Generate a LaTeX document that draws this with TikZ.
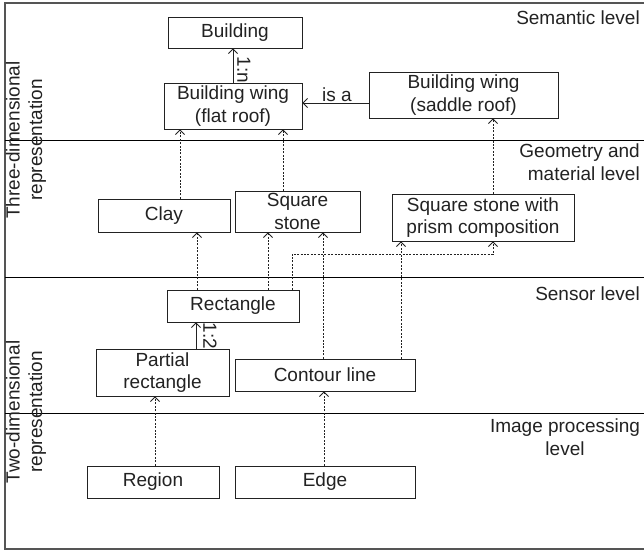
\documentclass[tikz,border=0pt]{standalone}
\usepackage{fontspec}
\setmainfont{Liberation Sans}
\usetikzlibrary{arrows.meta}
\definecolor{ink}{HTML}{222222}
\definecolor{rule}{HTML}{555555}
\tikzset{
  txt/.style={text=ink, font=\fontsize{19}{22.5}\selectfont, inner sep=0pt, align=center},
  box/.style={txt, draw=ink, line width=0.9pt},
  levellabel/.style={txt},
  barb/.style={-{Straight Barb[length=4.5pt,width=9pt,line width=0.8pt]}},
  solidlink/.style={barb, draw=ink, line width=0.9pt},
  dotlink/.style={barb, draw=ink, line width=0.9pt, dash pattern=on 2pt off 1.4pt},
}
\begin{document}
\begin{tikzpicture}[x=1pt,y=-1pt]
\useasboundingbox (0,0) rectangle (644,552);
\fill[white] (0,0) rectangle (644,552);

% frame and level separators
\draw[rule, line width=1.2pt] (644,3) -- (5,3) -- (5,549) -- (644,549);
\draw[black, line width=1pt] (5,140) -- (644,140);
\draw[black, line width=1pt] (5,277) -- (644,277);
\draw[black, line width=1pt] (5,413) -- (644,413);

% level names
\node[levellabel, anchor=east] (semantic) at (640,18) {Semantic level};
\node[levellabel, anchor=east, align=right] (geometry) at (640,162) {Geometry and\\material level};
\node[levellabel, anchor=east] (sensor) at (640,294) {Sensor level};
\node[levellabel] (imgproc) at (565,437) {Image processing\\level};
\node[levellabel, rotate=90] (threedim) at (26,140) {Three-dimensional\\representation};
\node[levellabel, rotate=90] (twodim) at (26,412) {Two-dimensional\\representation};

% concept boxes
\node[box, minimum width=134pt, minimum height=31pt] (building) at (235,32.5) {Building};
\node[box, minimum width=138pt, minimum height=46pt] (flat) at (233,106) {Building wing\\(flat roof)};
\node[box, minimum width=189pt, minimum height=46pt] (saddle) at (463.5,95) {Building wing\\(saddle roof)};
\node[box, minimum width=132pt, minimum height=33pt] (clay) at (164,215.5) {Clay};
\node[box, minimum width=125pt, minimum height=41pt] (sqstone) at (297.5,211.5) {Square\\stone};
\node[box, minimum width=182pt, minimum height=47pt] (prism) at (483,217.5) {Square stone with\\prism composition};
\node[box, minimum width=132pt, minimum height=32pt] (rect) at (233,306) {Rectangle};
\node[box, minimum width=133pt, minimum height=47pt] (partial) at (162.5,372.5) {Partial\\rectangle};
\node[box, minimum width=180pt, minimum height=32pt] (contour) at (325,375) {Contour line};
\node[box, minimum width=132pt, minimum height=32pt] (region) at (153,482) {Region};
\node[box, minimum width=180pt, minimum height=32pt] (edge) at (325,482) {Edge};

% x positions of the vertical links, y of the horizontal ones
\coordinate (xa) at (180,0);
\coordinate (xb) at (283,0);
\coordinate (xc) at (493,0);
\coordinate (xd) at (197,0);
\coordinate (xe) at (268,0);
\coordinate (xf) at (292,0);
\coordinate (xg) at (323,0);
\coordinate (xh) at (401,0);
\coordinate (xi) at (196,0);
\coordinate (xj) at (155,0);
\coordinate (xk) at (324,0);
\coordinate (xl) at (233,0);
\coordinate (ya) at (0,103);
\coordinate (jog) at (493,254);

% solid relations
\draw[solidlink] (flat.north -| xl) -- (building.south -| xl);
\node[txt, rotate=-90] (onen) at (244,70) {1:n};
\draw[solidlink] (saddle.west |- ya) -- (flat.east |- ya);
\node[txt] (isa) at (337,95) {is a};
\draw[solidlink] (partial.north -| xi) -- (rect.south -| xi);
\node[txt, rotate=-90] (onetwo) at (210,336) {1:2};

% dotted derivations
\draw[dotlink] (clay.north -| xa) -- (flat.south -| xa);
\draw[dotlink] (sqstone.north -| xb) -- (flat.south -| xb);
\draw[dotlink] (prism.north -| xc) -- (saddle.south -| xc);
\draw[dotlink] (rect.north -| xd) -- (clay.south -| xd);
\draw[dotlink] (rect.north -| xe) -- (sqstone.south -| xe);
\draw[dotlink] (rect.north -| xf) |- (jog) -- (prism.south -| jog);
\draw[dotlink] (contour.north -| xg) -- (sqstone.south -| xg);
\draw[dotlink] (contour.north -| xh) -- (prism.south -| xh);
\draw[dotlink] (region.north -| xj) -- (partial.south -| xj);
\draw[dotlink] (edge.north -| xk) -- (contour.south -| xk);
\end{tikzpicture}
\end{document}
